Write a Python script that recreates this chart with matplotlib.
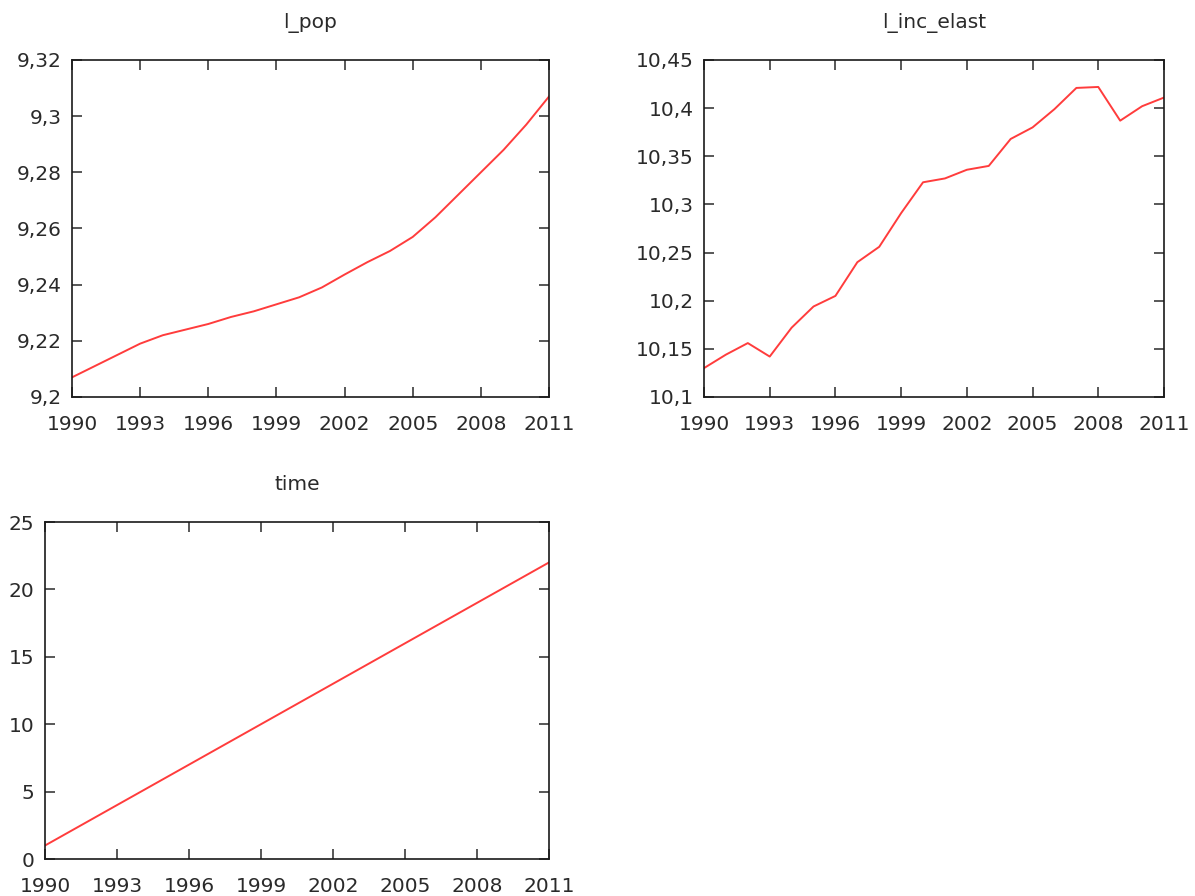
import numpy as np
import matplotlib
matplotlib.use('Agg')
import matplotlib.pyplot as plt
from matplotlib.ticker import FuncFormatter, MultipleLocator, FixedLocator

years = np.arange(1990, 2012)
year_ticks = years[::3]

l_pop = [9.207, 9.211, 9.215, 9.219, 9.222, 9.224, 9.226, 9.2285, 9.2305, 9.233,
         9.2355, 9.239, 9.2436, 9.248, 9.252, 9.257, 9.264, 9.272, 9.280, 9.288,
         9.297, 9.307]

l_inc_elast = [10.130, 10.144, 10.156, 10.142, 10.172, 10.194, 10.205, 10.240, 10.256,
               10.291, 10.323, 10.327, 10.336, 10.340, 10.368, 10.380, 10.399, 10.421,
               10.422, 10.387, 10.402, 10.411]

time = list(range(1, 23))

line_color = '#ff3c3c'
text_color = '#2a2a2a'
fontsize = 14.5


def comma_fmt(v, pos):
    return ('%g' % round(v, 6)).replace('.', ',')


def style_axes(ax, title, ylim, ystep):
    ax.set_xlim(1990, 2011)
    ax.set_ylim(*ylim)
    ax.xaxis.set_major_locator(FixedLocator(year_ticks))
    ax.yaxis.set_major_locator(MultipleLocator(ystep))
    ax.yaxis.set_major_formatter(FuncFormatter(comma_fmt))
    ax.tick_params(direction='in', length=7, width=1.1, top=True, right=True,
                   labelsize=fontsize, colors=text_color, pad=7.5)
    ax.tick_params(axis='x', pad=13)
    for s in ax.spines.values():
        s.set_linewidth(1.2)
        s.set_color('#1a1a1a')
    ax.set_title(title, fontsize=fontsize, color=text_color, pad=23)


fig = plt.figure(figsize=(11.95, 8.96), dpi=100)

ax1 = fig.add_axes([72 / 1195, 1 - 397 / 896, (549 - 72) / 1195, 337 / 896])
ax1.plot(years, l_pop, color=line_color, lw=1.4)
style_axes(ax1, 'l_pop', (9.2, 9.32), 0.02)

ax2 = fig.add_axes([704 / 1195, 1 - 397 / 896, (1164 - 704) / 1195, 337 / 896])
ax2.plot(years, l_inc_elast, color=line_color, lw=1.4)
style_axes(ax2, 'l_inc_elast', (10.1, 10.45), 0.05)

ax3 = fig.add_axes([45 / 1195, 1 - 859 / 896, (549 - 45) / 1195, 337 / 896])
ax3.plot(years, time, color=line_color, lw=1.4)
style_axes(ax3, 'time', (0, 25), 5)

fig.savefig('out.png', dpi=100)
